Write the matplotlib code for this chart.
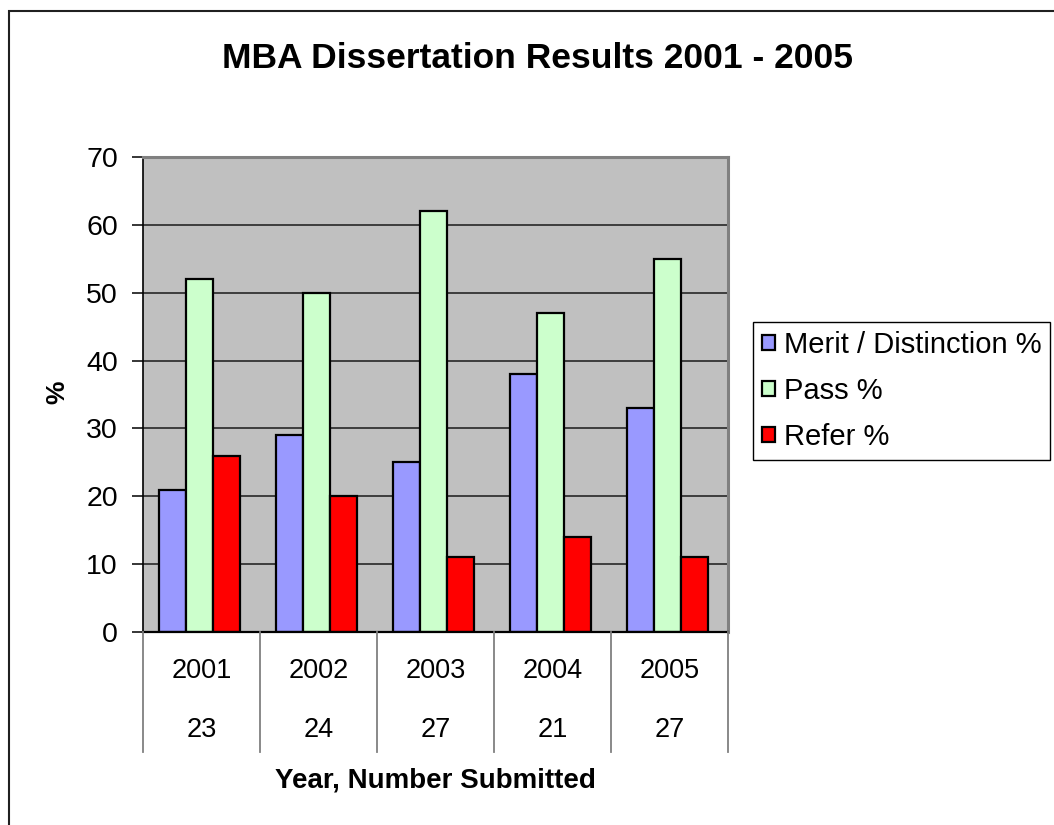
import matplotlib
matplotlib.use("Agg")
import matplotlib.pyplot as plt
import matplotlib.transforms as mtransforms
from matplotlib.patches import Rectangle
import numpy as np

# ---- data ----
years = ['2001', '2002', '2003', '2004', '2005']
submitted = ['23', '24', '27', '21', '27']
merit = [21, 29, 25, 38, 33]
pass_pct = [52, 50, 62, 47, 55]
refer = [26, 20, 11, 14, 11]
series_names = ['Merit / Distinction %', 'Pass %', 'Refer %']
colors = ['#9999FF', '#CCFFCC', '#FF0000']
y_ticks = [0, 10, 20, 30, 40, 50, 60, 70]

plt.rcParams['font.family'] = ['Liberation Sans', 'DejaVu Sans']

W, H = 1054, 825
fig = plt.figure(figsize=(W / 100, H / 100), dpi=100)
ax = fig.add_axes([143 / W, 1 - 632 / H, (728 - 143) / W, (632 - 157) / H])
ax.set_facecolor('#C0C0C0')

x = np.arange(len(years))
bw = 0.231
offsets = [-bw, 0.0, bw]
for vals, c, off, name in zip([merit, pass_pct, refer], colors, offsets, series_names):
    ax.bar(x - 0.017 + off, vals, bw, color=c, edgecolor='black', linewidth=1.6,
           label=name, zorder=3)

ax.set_xlim(-0.5, len(years) - 0.5)
ax.set_ylim(0, 70)
ax.set_yticks(y_ticks)
ax.yaxis.grid(True, color='#333333', linewidth=1.3, zorder=1)
ax.set_axisbelow(True)

ax.spines['left'].set_color('black')
ax.spines['left'].set_linewidth(1.2)
ax.spines['bottom'].set_color('black')
ax.spines['bottom'].set_linewidth(1.6)
ax.spines['bottom'].set_zorder(4)
for s in ['top', 'right']:
    ax.spines[s].set_color('#808080')
    ax.spines[s].set_linewidth(2.2)

ax.tick_params(axis='y', direction='out', length=8, width=1.1, labelsize=20.5, pad=10)
ax.tick_params(axis='x', length=0, labelbottom=False)

# multi-level category axis (Excel style)
trans = mtransforms.blended_transform_factory(ax.transData, ax.transAxes)
bottom = (632 - 752) / 475
for b in np.arange(-0.5, len(years), 1.0):
    ax.plot([b, b], [0, bottom], transform=trans, color='#808080', lw=1.3,
            clip_on=False, zorder=5)
for i in range(len(years)):
    ax.text(i, (632 - 671) / 475, years[i], transform=trans, ha='center', va='center',
            fontsize=19.5)
    ax.text(i, (632 - 730) / 475, submitted[i], transform=trans, ha='center', va='center',
            fontsize=19.5)

fig.text(435.5 / W, 1 - 781 / H, 'Year, Number Submitted', ha='center', va='center',
         fontsize=20, fontweight='bold')
fig.text(57 / W, 1 - 392 / H, '%', ha='center', va='center', rotation=90,
         fontsize=19, fontweight='bold')
fig.text(538 / W, 1 - 58 / H, 'MBA Dissertation Results 2001 - 2005', ha='center',
         va='center', fontsize=25.5, fontweight='bold')

leg = fig.legend(loc='upper left', bbox_to_anchor=(753 / W, 1 - 322 / H), fontsize=21,
                 frameon=True, fancybox=False, edgecolor='black', framealpha=1,
                 handlelength=0.45, handleheight=0.45, handletextpad=0.3,
                 labelspacing=0.62, borderpad=0.3, borderaxespad=0)
leg.get_frame().set_linewidth(1.0)

# outer chart border
fig.patches.append(Rectangle((9 / W, -0.05), 1.1, 1 - 11 / H + 0.05,
                             transform=fig.transFigure, fill=False,
                             edgecolor='#202020', linewidth=1.5))

fig.savefig('out.png', dpi=100)
